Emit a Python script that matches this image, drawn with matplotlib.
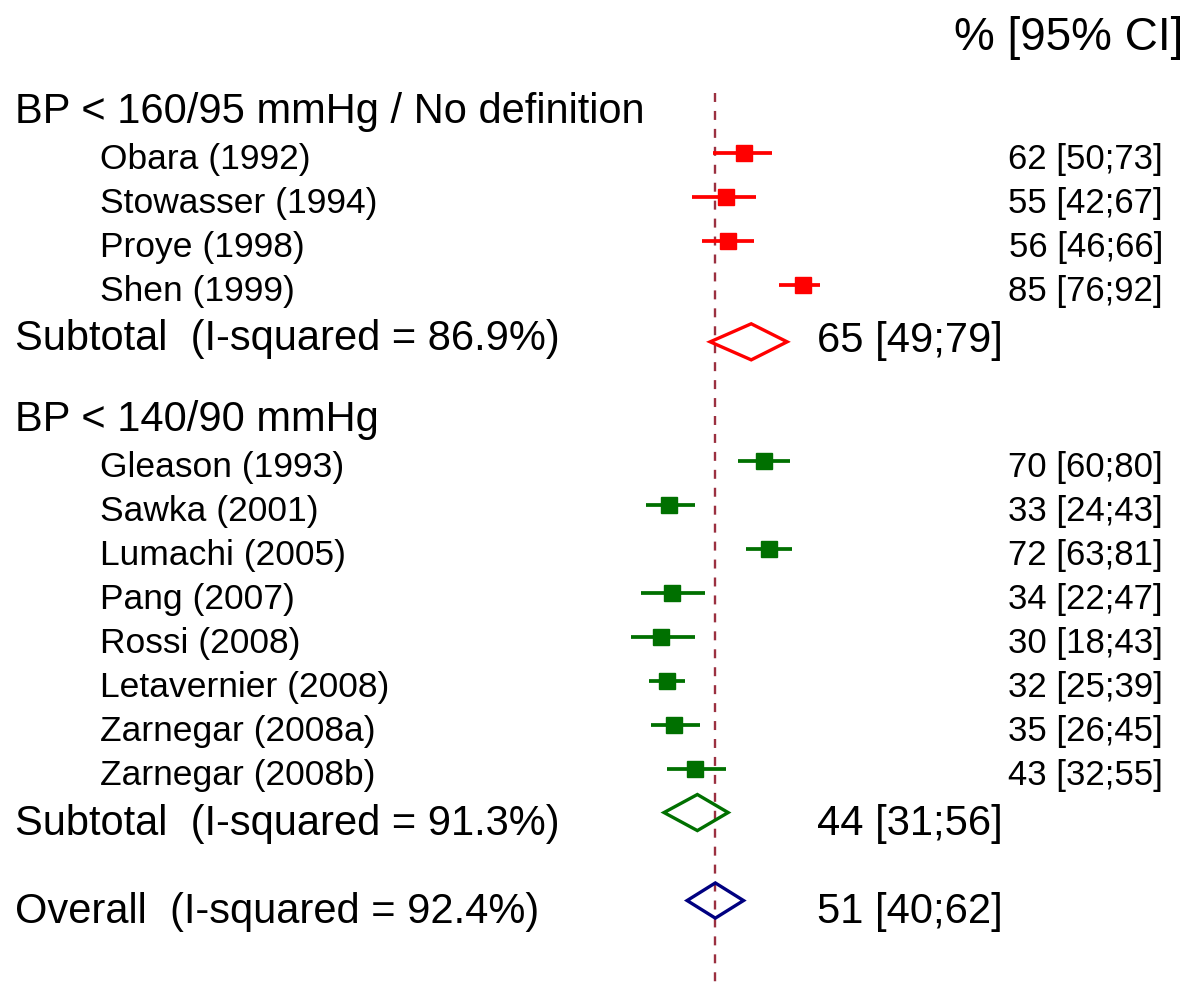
import numpy as np
import matplotlib.pyplot as plt
from matplotlib.patches import Polygon
from matplotlib.transforms import blended_transform_factory

plt.rcParams['font.family'] = ['Liberation Sans', 'DejaVu Sans']

# study data
studies = ["Obara (1992)", "Stowasser (1994)", "Proye (1998)", "Shen (1999)",
           "Gleason (1993)", "Sawka (2001)", "Lumachi (2005)", "Pang (2007)",
           "Rossi (2008)", "Letavernier (2008)", "Zarnegar (2008a)", "Zarnegar (2008b)"]
est = [62, 55, 56, 85, 70, 33, 72, 34, 30, 32, 35, 43]
lo = [50, 42, 46, 76, 60, 24, 63, 22, 18, 25, 26, 32]
hi = [73, 67, 66, 92, 80, 43, 81, 47, 43, 39, 45, 55]
group = [0, 0, 0, 0, 1, 1, 1, 1, 1, 1, 1, 1]

group_names = ["BP < 160/95 mmHg / No definition", "BP < 140/90 mmHg"]
group_colors = ["#ff0000", "#007000"]
sub_est = [65, 44]
sub_lo = [49, 31]
sub_hi = [79, 56]
sub_i2 = [86.9, 91.3]

overall_est, overall_lo, overall_hi = 51, 40, 62
overall_i2 = 92.4
overall_color = "#000080"

# row layout
study_rows = [1, 2, 3, 4, 8, 9, 10, 11, 12, 13, 14, 15]
header_rows = [0.07, 7.07]
sub_rows = [5.3, 16]
sub_label_rows = [5.23, 16.26]
sub_value_rows = [5.28, 16.26]
overall_row = 18

fig = plt.figure(figsize=(11.88, 9.85), dpi=100)
ax = fig.add_axes([0, 0, 1, 1])
ax.set_xlim(-227.9, 235.3)
ax.set_ylim(19.92, -2.47)
ax.axis('off')
tr = blended_transform_factory(ax.transAxes, ax.transData)

# reference line at overall estimate
ax.plot([overall_est, overall_est], [-0.35, 19.92], color="#9b3040", lw=1.7,
        dashes=(3.8, 3.8), zorder=1)

for i in range(len(studies)):
    c = group_colors[group[i]]
    r = study_rows[i]
    ax.plot([lo[i], hi[i]], [r, r], color=c, lw=2.7, solid_capstyle='butt', zorder=2)
    ax.plot(est[i], r, marker='s', color=c, markersize=11.5, zorder=3)
    ax.text(0.084, r + 0.15, studies[i], transform=tr, fontsize=25.5, va='center', ha='left')
    ax.text(0.979, r + 0.15, f"{est[i]} [{lo[i]};{hi[i]}]", transform=tr, fontsize=25,
            va='center', ha='right')

h = 0.41
for g in range(2):
    r = sub_rows[g]
    c = group_colors[g]
    ax.text(0.0126, header_rows[g], group_names[g], transform=tr, fontsize=30, va='center', ha='left')
    d = Polygon([[sub_lo[g], r], [sub_est[g], r - h], [sub_hi[g], r], [sub_est[g], r + h]],
                closed=True, fill=False, edgecolor=c, lw=2.4, zorder=3)
    ax.add_patch(d)
    ax.text(0.0126, sub_label_rows[g], f"Subtotal  (I-squared = {sub_i2[g]}%)", transform=tr,
            fontsize=30, va='center', ha='left')
    ax.text(0.688, sub_value_rows[g], f"{sub_est[g]} [{sub_lo[g]};{sub_hi[g]}]",
            transform=tr, fontsize=30, va='center', ha='left')

r = overall_row
d = Polygon([[overall_lo, r], [overall_est, r - 0.4], [overall_hi, r], [overall_est, r + 0.4]],
            closed=True, fill=False, edgecolor=overall_color, lw=2.4, zorder=3)
ax.add_patch(d)
ax.text(0.0126, r + 0.26, f"Overall  (I-squared = {overall_i2}%)", transform=tr,
        fontsize=30, va='center', ha='left')
ax.text(0.688, r + 0.26, f"{overall_est} [{overall_lo};{overall_hi}]", transform=tr,
        fontsize=30, va='center', ha='left')

ax.text(0.9958, -1.6, "% [95% CI]", transform=tr, fontsize=33, va='center', ha='right')

fig.savefig("out.png", dpi=100)
